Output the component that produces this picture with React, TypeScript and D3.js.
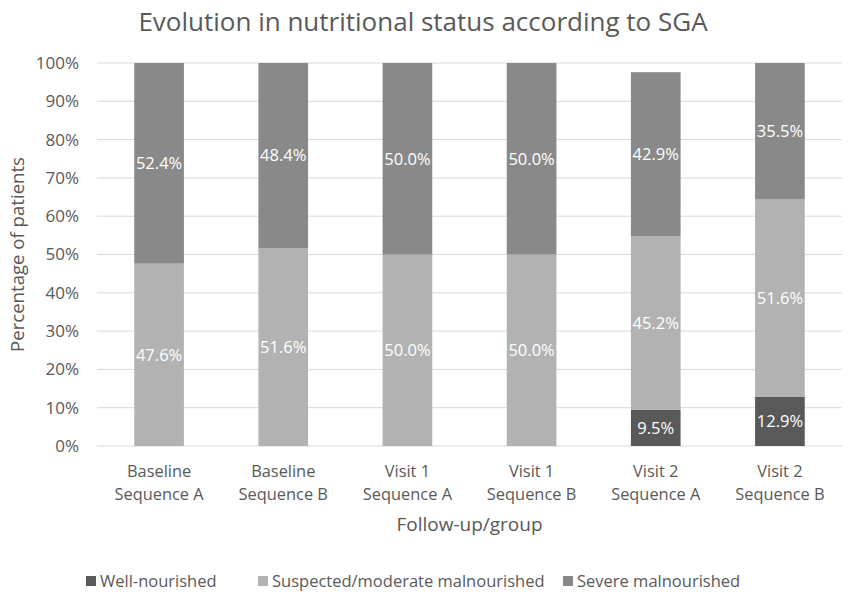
import React, { useEffect, useRef } from "react";
import * as d3 from "d3";

// chart data
const categories = [
  ["Baseline", "Sequence A"],
  ["Baseline", "Sequence B"],
  ["Visit 1", "Sequence A"],
  ["Visit 1", "Sequence B"],
  ["Visit 2", "Sequence A"],
  ["Visit 2", "Sequence B"],
];
const seriesNames = ["Well-nourished", "Suspected/moderate malnourished", "Severe malnourished"];
const wellNourished = [0, 0, 0, 0, 9.5, 12.9];
const suspected = [47.6, 51.6, 50.0, 50.0, 45.2, 51.6];
const severe = [52.4, 48.4, 50.0, 50.0, 42.9, 35.5];
const yTicks = [0, 10, 20, 30, 40, 50, 60, 70, 80, 90, 100];

const colors = ["#595959", "#b2b2b2", "#898989"];
const FONT = "'Open Sans', 'Noto Sans', sans-serif";
const W = 851;
const H = 598;

const App = () => {
  const ref = useRef<SVGSVGElement | null>(null);

  useEffect(() => {
    const svg = d3.select(ref.current);
    svg.selectAll("*").remove();

    const left = 97;
    const right = 842;
    const top = 63;
    const bottom = 446;

    const x = d3
      .scaleBand<number>()
      .domain(categories.map((_, i) => i))
      .range([left, right])
      .paddingInner(0.6)
      .paddingOuter(0.3);
    const y = d3.scaleLinear().domain([0, 100]).range([bottom, top]);

    // title
    svg
      .append("text")
      .attr("x", 423)
      .attr("y", 31)
      .attr("text-anchor", "middle")
      .attr("font-size", 26)
      .attr("fill", "#595959")
      .text("Evolution in nutritional status according to SGA");

    // gridlines + tick labels
    const yAxis = svg.append("g");
    yTicks.forEach((t) => {
      yAxis
        .append("line")
        .attr("x1", left)
        .attr("x2", right)
        .attr("y1", y(t))
        .attr("y2", y(t))
        .attr("stroke", "#d9d9d9")
        .attr("stroke-width", 1);
      yAxis
        .append("text")
        .attr("x", 79)
        .attr("y", y(t))
        .attr("dy", "0.35em")
        .attr("text-anchor", "end")
        .attr("font-size", 17)
        .attr("fill", "#595959")
        .text(`${t}%`);
    });

    // stacked bars
    const rows = categories.map((_, i) => ({
      i,
      well: wellNourished[i],
      suspected: suspected[i],
      severe: severe[i],
    }));
    const stack = d3.stack<any>().keys(["well", "suspected", "severe"]);
    const layers = stack(rows);

    layers.forEach((layer, k) => {
      const g = svg.append("g");
      layer.forEach((d) => {
        const v = d[1] - d[0];
        if (v <= 0) return;
        const xi = x(d.data.i) as number;
        g.append("rect")
          .attr("x", xi)
          .attr("y", y(d[1]))
          .attr("width", x.bandwidth())
          .attr("height", y(d[0]) - y(d[1]))
          .attr("fill", colors[k]);
        g.append("text")
          .attr("x", xi + x.bandwidth() / 2)
          .attr("y", y((d[0] + d[1]) / 2))
          .attr("dy", "0.35em")
          .attr("text-anchor", "middle")
          .attr("font-size", 16.5)
          .attr("fill", "#ffffff")
          .text(`${v.toFixed(1)}%`);
      });
    });

    // x axis labels
    categories.forEach((c, i) => {
      const cx = (x(i) as number) + x.bandwidth() / 2;
      const t = svg
        .append("text")
        .attr("x", cx)
        .attr("text-anchor", "middle")
        .attr("font-size", 16.4)
        .attr("fill", "#595959");
      t.append("tspan").attr("x", cx).attr("y", 477).text(c[0]);
      t.append("tspan").attr("x", cx).attr("y", 500).text(c[1]);
    });

    // axis titles
    svg
      .append("text")
      .attr("x", (left + right) / 2)
      .attr("y", 531)
      .attr("text-anchor", "middle")
      .attr("font-size", 19)
      .attr("fill", "#595959")
      .text("Follow-up/group");
    svg
      .append("text")
      .attr("transform", `translate(24, ${(top + bottom) / 2}) rotate(-90)`)
      .attr("text-anchor", "middle")
      .attr("font-size", 18.6)
      .attr("fill", "#595959")
      .text("Percentage of patients");

    // legend
    const legendX = [86, 258, 563];
    seriesNames.forEach((name, k) => {
      const g = svg.append("g").attr("transform", `translate(${legendX[k]}, 581)`);
      g.append("rect").attr("x", 0).attr("y", -5).attr("width", 10).attr("height", 10).attr("fill", colors[k]);
      g.append("text")
        .attr("x", 14)
        .attr("y", 0)
        .attr("dy", "0.35em")
        .attr("font-size", 16.5)
        .attr("fill", "#595959")
        .text(name);
    });
  }, []);

  return (
    <svg
      ref={ref}
      width={W}
      height={H}
      style={{ display: "block", position: "absolute", left: 0, top: 0, fontFamily: FONT, background: "#fff" }}
    ></svg>
  );
};

export default App;
